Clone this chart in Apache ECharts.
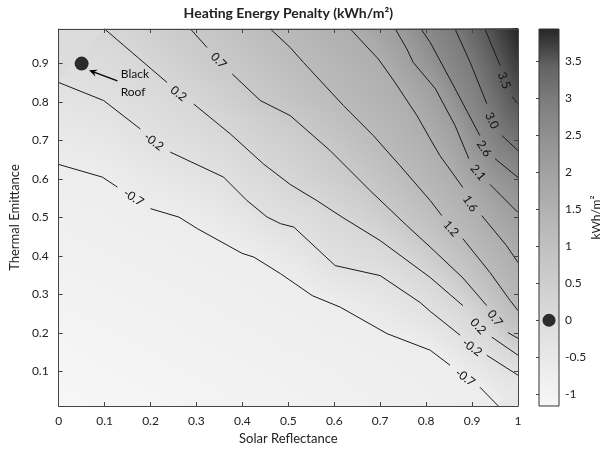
<!DOCTYPE html>
<html><head><meta charset="utf-8">
<script src="https://cdn.jsdelivr.net/npm/echarts@6/dist/echarts.min.js"></script>
<style>html,body{margin:0;padding:0;background:#fff}#c{width:615px;height:454px}</style>
</head><body><div id="c"></div>
<script>
// ---- data ----
const xRange = [0, 1];
const yRange = [0.01, 0.99];
const yTicks = [0.1, 0.2, 0.3, 0.4, 0.5, 0.6, 0.7, 0.8, 0.9];
const cbRange = [-1.16, 3.94];          // colour-bar extent = data min / max (corners)
const cbTicks = [-1, -0.5, 0, 0.5, 1, 1.5, 2, 2.5, 3, 3.5];
const levels = [-0.7, -0.2, 0.2, 0.7, 1.2, 1.6, 2.1, 2.6, 3.0, 3.5];
const levelLabels = ['-0.7', '-0.2', '0.2', '0.7', '1.2', '1.6', '2.1', '2.6', '3.0', '3.5'];
// flat shade for each region between contours (lowest region first), used as underlay
const bandValues = [-0.95, -0.45, 0, 0.45, 0.95, 1.4, 1.85, 2.35, 2.8, 3.25, 3.72];
const grayStops = ['#f7f7f7','#ececec','#e0e0e0','#d2d2d2','#c4c4c4','#b5b5b5','#a5a5a5','#939393','#7f7f7f','#636363','#252525'];

// contour polylines, null = gap for the inline label
const c_m07 = [[0,0.638],[0.095,0.605],[0.128,0.579],null,[0.2,0.523],[0.262,0.501],[0.302,0.471],[0.399,0.407],[0.425,0.397],[0.483,0.354],[0.552,0.297],[0.613,0.267],[0.715,0.198],[0.809,0.155],[0.852,0.116],null,[0.917,0.059],[0.957,0.01]];
const c_m02 = [[0,0.851],[0.098,0.804],[0.178,0.730],null,[0.243,0.670],[0.359,0.605],[0.410,0.544],[0.454,0.501],[0.483,0.484],[0.512,0.475],[0.602,0.375],[0.7,0.349],[0.787,0.279],[0.809,0.256],[0.874,0.194],null,[0.932,0.142],[1,0.090]];
const c_02 = [[0.1,0.99],[0.236,0.851],null,[0.294,0.795],[0.374,0.717],[0.446,0.639],[0.504,0.586],[0.562,0.544],[0.617,0.501],[0.7,0.440],[0.809,0.344],[0.880,0.271],null,[0.943,0.189],[1,0.142]];
const c_07 = [[0.287,0.99],[0.323,0.942],null,[0.378,0.873],[0.439,0.804],[0.504,0.765],[0.591,0.674],[0.678,0.570],[0.758,0.479],[0.809,0.423],[0.880,0.343],[0.932,0.271],null,[0.978,0.201],[1,0.186]];
const c_12 = [[0.461,0.99],[0.504,0.942],[0.533,0.903],[0.620,0.791],[0.685,0.713],[0.743,0.635],[0.809,0.544],[0.834,0.505],null,[0.880,0.445],[0.939,0.357],[0.983,0.284],[1,0.258]];
const c_16 = [[0.635,0.99],[0.696,0.912],[0.730,0.855],[0.780,0.765],[0.809,0.704],[0.830,0.661],[0.880,0.578],null,[0.921,0.505],[0.975,0.427],[1,0.383]];
const c_21 = [[0.733,0.99],[0.758,0.938],[0.772,0.903],[0.820,0.835],[0.863,0.739],[0.893,0.653],null,[0.939,0.586],[1,0.513]];
const c_26 = [[0.789,0.99],[0.809,0.955],[0.863,0.835],[0.917,0.713],null,[0.950,0.653],[1,0.604]];
const c_30 = [[0.863,0.99],[0.896,0.903],[0.932,0.796],null,[0.965,0.713],[1,0.674]];
const c_35 = [[0.928,0.99],[0.961,0.895],null,[0.987,0.814],[1,0.796]];
const contours = [c_m07, c_m02, c_02, c_07, c_12, c_16, c_21, c_26, c_30, c_35];

// label centres, one per gap
const lab_m07 = [[0.163,0.552],[0.885,0.084]];
const lab_m02 = [[0.207,0.697],[0.900,0.162]];
const lab_02 = [[0.261,0.822],[0.913,0.217]];
const lab_07 = [[0.348,0.908],[0.950,0.238]];
const lab_12 = [[0.854,0.471]];
const lab_16 = [[0.896,0.536]];
const lab_21 = [[0.913,0.617]];
const lab_26 = [[0.926,0.679]];
const lab_30 = [[0.943,0.752]];
const lab_35 = [[0.970,0.856]];
const labelPts = [lab_m07, lab_m02, lab_02, lab_07, lab_12, lab_16, lab_21, lab_26, lab_30, lab_35];

const blackRoof = [0.05, 0.9];
const arrowTail = [0.128, 0.855];
const arrowHead = [0.066, 0.883];
const annotText = ['Black', 'Roof'];
const annotPos = [[0.166, 0.872], [0.162, 0.826]];
const cbMarker = [0.5, 0];

// ---- helpers ----
const X0 = xRange[0], X1 = xRange[1], Y0 = yRange[0], Y1 = yRange[1];
function perim(p) {
  const e = 1e-6;
  if (Math.abs(p[1] - Y0) < e) return (p[0] - X0) / (X1 - X0);
  if (Math.abs(p[0] - X1) < e) return 1 + (p[1] - Y0) / (Y1 - Y0);
  if (Math.abs(p[1] - Y1) < e) return 2 + (X1 - p[0]) / (X1 - X0);
  return 3 + (Y1 - p[1]) / (Y1 - Y0);
}
const corners = [[X1, Y0], [X1, Y1], [X0, Y1], [X0, Y0]];
function regionAbove(pts) {
  const a = pts[0], b = pts[pts.length - 1];
  let sa = perim(a); const sb = perim(b);
  if (sa <= sb) sa += 4;
  const out = pts.slice();
  for (let k = 1; k <= 8; k++) if (k > sb && k < sa) out.push(corners[(k - 1) % 4]);
  return out;
}
function grayAt(v) {
  const t = Math.max(0, Math.min(1, (v - cbRange[0]) / (cbRange[1] - cbRange[0])));
  const f = t * (grayStops.length - 1);
  const k = Math.min(grayStops.length - 2, Math.floor(f));
  const u = f - k;
  const g0 = parseInt(grayStops[k].slice(1, 3), 16), g1 = parseInt(grayStops[k + 1].slice(1, 3), 16);
  const g = Math.round(g0 + (g1 - g0) * u);
  return 'rgb(' + g + ',' + g + ',' + g + ')';
}
function resample(px, n) {
  const cum = [0];
  for (let i = 1; i < px.length; i++) cum.push(cum[i - 1] + Math.hypot(px[i][0] - px[i - 1][0], px[i][1] - px[i - 1][1]));
  const L = cum[cum.length - 1], out = [];
  let j = 0;
  for (let k = 0; k <= n; k++) {
    const s = L * k / n;
    while (j < px.length - 2 && cum[j + 1] < s) j++;
    const seg = cum[j + 1] - cum[j] || 1, u = Math.min(1, Math.max(0, (s - cum[j]) / seg));
    out.push([px[j][0] + (px[j + 1][0] - px[j][0]) * u, px[j][1] + (px[j + 1][1] - px[j][1]) * u]);
  }
  return out;
}
function gradPoly(pts, p0, p1, c0, c1) {
  const g = new echarts.graphic.LinearGradient(p0[0], p0[1], p1[0], p1[1],
    [{ offset: 0, color: c0 }, { offset: 1, color: c1 }], true);
  return { type: 'polygon', shape: { points: pts }, style: { fill: g, stroke: g, lineWidth: 0.8 } };
}
const FONT = 'Lato, "Open Sans", sans-serif';
const NSEG = 60;

const chart = echarts.init(document.getElementById('c'), null, { renderer: 'canvas' });
chart.setOption({
  animation: false,
  backgroundColor: '#fff',
  grid: [
    { left: 58, top: 29, width: 460, height: 377, show: false },
    { left: 539, top: 29, width: 20, height: 377, show: false }
  ],
  xAxis: [
    { gridIndex: 0, type: 'value', min: X0, max: X1, interval: 0.1, position: 'bottom', z: 10,
      axisLine: { show: true, onZero: false, lineStyle: { color: '#444', width: 1 } },
      axisTick: { inside: true, length: 4, lineStyle: { color: '#444' } },
      axisLabel: { fontSize: 12, color: '#222', margin: 9, fontFamily: FONT },
      splitLine: { show: false },
      name: 'Solar Reflectance', nameLocation: 'middle', nameGap: 25,
      nameTextStyle: { fontSize: 13, color: '#222', fontFamily: FONT } },
    { gridIndex: 0, type: 'value', min: X0, max: X1, interval: 0.1, position: 'top', z: 10,
      axisLine: { show: true, onZero: false, lineStyle: { color: '#444', width: 1 } },
      axisTick: { inside: true, length: 4, lineStyle: { color: '#444' } },
      axisLabel: { show: false }, splitLine: { show: false },
      name: 'Heating Energy Penalty (kWh/m²)', nameLocation: 'middle', nameGap: 9,
      nameTextStyle: { fontSize: 14, fontWeight: 'bold', color: '#222', fontFamily: FONT } },
    { gridIndex: 1, type: 'value', min: 0, max: 1, show: false }
  ],
  yAxis: [
    { gridIndex: 0, type: 'value', min: Y0, max: Y1, position: 'left', z: 10,
      axisLine: { show: true, onZero: false, lineStyle: { color: '#444', width: 1 } },
      axisTick: { inside: true, length: 4, customValues: yTicks, lineStyle: { color: '#444' } },
      axisLabel: { customValues: yTicks, fontSize: 12, color: '#222', margin: 10, fontFamily: FONT },
      splitLine: { show: false },
      name: 'Thermal Emittance', nameLocation: 'middle', nameGap: 27,
      nameTextStyle: { fontSize: 13, color: '#222', fontFamily: FONT } },
    { gridIndex: 0, type: 'value', min: Y0, max: Y1, position: 'right', z: 10,
      axisLine: { show: true, onZero: false, lineStyle: { color: '#444', width: 1 } },
      axisTick: { inside: true, length: 4, customValues: yTicks, lineStyle: { color: '#444' } },
      axisLabel: { show: false }, splitLine: { show: false } },
    { gridIndex: 1, type: 'value', min: cbRange[0], max: cbRange[1], position: 'right', z: 10,
      axisLine: { show: false },
      axisTick: { inside: true, length: 3, customValues: cbTicks, lineStyle: { color: '#444' } },
      axisLabel: { customValues: cbTicks, fontSize: 12, color: '#222', margin: 6, fontFamily: FONT },
      splitLine: { show: false },
      name: 'kWh/m²', nameLocation: 'middle', nameGap: 30,
      nameTextStyle: { fontSize: 12, color: '#222', fontFamily: FONT } }
  ],
  series: [
    { // flat underlay of each region
      type: 'custom', xAxisIndex: 0, yAxisIndex: 0, z: 1, silent: true,
      data: bandValues.map((v, i) => [0.5, 0.5, v, i]),
      renderItem(params, api) {
        const i = api.value(3);
        const poly = i === 0 ? [[X0, Y0], [X1, Y0], [X1, Y1], [X0, Y1]]
                             : regionAbove(contours[i - 1].filter(p => p));
        const col = grayAt(api.value(2));
        return { type: 'polygon', shape: { points: poly.map(p => api.coord(p)) },
                 style: { fill: col, stroke: col, lineWidth: 0.6 } };
      }
    },
    { // smooth shading between neighbouring contours
      type: 'custom', xAxisIndex: 0, yAxisIndex: 0, z: 2, silent: true,
      data: bandValues.map((v, i) => [0.5, 0.5, i]),
      renderItem(params, api) {
        const i = api.value(2);
        const kids = [];
        const nC = contours.length;
        if (i === 0 || i === nC) {
          const corner = i === 0 ? api.coord([X0, Y0]) : api.coord([X1, Y1]);
          const cv = i === 0 ? cbRange[0] : cbRange[1];
          const ci = i === 0 ? 0 : nC - 1;
          const P = resample(contours[ci].filter(p => p).map(p => api.coord(p)), NSEG);
          for (let k = 0; k < NSEG; k++) {
            const m = [(P[k][0] + P[k + 1][0]) / 2, (P[k][1] + P[k + 1][1]) / 2];
            kids.push(gradPoly([corner, P[k], P[k + 1]], corner, m, grayAt(cv), grayAt(levels[ci])));
          }
        } else {
          const A = resample(contours[i - 1].filter(p => p).map(p => api.coord(p)), NSEG);
          const B = resample(contours[i].filter(p => p).map(p => api.coord(p)), NSEG);
          const ca = grayAt(levels[i - 1]), cb = grayAt(levels[i]);
          for (let k = 0; k < NSEG; k++) {
            const ma = [(A[k][0] + A[k + 1][0]) / 2, (A[k][1] + A[k + 1][1]) / 2];
            const mb = [(B[k][0] + B[k + 1][0]) / 2, (B[k][1] + B[k + 1][1]) / 2];
            kids.push(gradPoly([A[k], A[k + 1], B[k + 1], B[k]], ma, mb, ca, cb));
          }
        }
        return { type: 'group', children: kids };
      }
    },
    { // contour lines
      type: 'custom', xAxisIndex: 0, yAxisIndex: 0, z: 3, silent: true,
      data: contours.map((c, i) => [0.5, 0.5, i]),
      renderItem(params, api) {
        const c = contours[api.value(2)];
        const segs = []; let cur = [];
        c.forEach(p => { if (p) cur.push(api.coord(p)); else { segs.push(cur); cur = []; } });
        segs.push(cur);
        return { type: 'group', children: segs.filter(s => s.length > 1).map(s => ({
          type: 'polyline', shape: { points: s },
          style: { stroke: '#1a1a1a', lineWidth: 1, fill: null } })) };
      }
    },
    { // contour labels
      type: 'custom', xAxisIndex: 0, yAxisIndex: 0, z: 4, silent: true,
      data: contours.map((c, i) => [0.5, 0.5, i]),
      renderItem(params, api) {
        const i = api.value(2);
        const c = contours[i];
        const kids = []; let g = 0;
        for (let j = 0; j < c.length; j++) {
          if (c[j] !== null) continue;
          const a = api.coord(c[j - 1]), b = api.coord(c[j + 1]);
          const pos = api.coord(labelPts[i][g]);
          const ang = -Math.atan2(b[1] - a[1], b[0] - a[0]);
          kids.push({ type: 'text', x: pos[0], y: pos[1], rotation: ang,
            style: { text: levelLabels[i], font: '12px ' + FONT, fill: '#111',
                     align: 'center', verticalAlign: 'middle' } });
          g++;
        }
        return { type: 'group', children: kids };
      }
    },
    { // annotation: text + arrow
      type: 'custom', xAxisIndex: 0, yAxisIndex: 0, z: 5, silent: true,
      data: [[0.5, 0.5, 0]],
      renderItem(params, api) {
        const kids = annotText.map((t, i) => {
          const p = api.coord(annotPos[i]);
          return { type: 'text', x: p[0], y: p[1],
            style: { text: t, font: '12px ' + FONT, fill: '#111', align: 'center', verticalAlign: 'middle' } };
        });
        const t = api.coord(arrowTail), h = api.coord(arrowHead);
        const ang = Math.atan2(h[1] - t[1], h[0] - t[0]);
        const L = 9, W = 0.42;
        const b1 = [h[0] - L * Math.cos(ang - W), h[1] - L * Math.sin(ang - W)];
        const b2 = [h[0] - L * Math.cos(ang + W), h[1] - L * Math.sin(ang + W)];
        const nb = [h[0] - 0.6 * L * Math.cos(ang), h[1] - 0.6 * L * Math.sin(ang)];
        kids.push({ type: 'line', shape: { x1: t[0], y1: t[1], x2: nb[0], y2: nb[1] },
          style: { stroke: '#000', lineWidth: 1.4 } });
        kids.push({ type: 'polygon', shape: { points: [h, b1, nb, b2] }, style: { fill: '#000' } });
        return { type: 'group', children: kids };
      }
    },
    { // black roof point
      type: 'scatter', xAxisIndex: 0, yAxisIndex: 0, z: 6, silent: true,
      symbolSize: 14, itemStyle: { color: '#000' }, data: [blackRoof]
    },
    { // colorbar
      type: 'custom', xAxisIndex: 2, yAxisIndex: 2, z: 2, silent: true,
      data: [[0.5, 0]],
      renderItem(params, api) {
        const tl = api.coord([0, cbRange[1]]), br = api.coord([1, cbRange[0]]);
        const stops = grayStops.map((c, k) => ({ offset: k / (grayStops.length - 1), color: c }));
        return { type: 'rect', shape: { x: tl[0], y: tl[1], width: br[0] - tl[0], height: br[1] - tl[1] },
          style: { fill: new echarts.graphic.LinearGradient(0, 1, 0, 0, stops), stroke: '#333', lineWidth: 1 } };
      }
    },
    { // colorbar marker
      type: 'scatter', xAxisIndex: 2, yAxisIndex: 2, z: 6, silent: true,
      symbolSize: 13, itemStyle: { color: '#000' }, data: [cbMarker]
    }
  ]
});
</script></body></html>
